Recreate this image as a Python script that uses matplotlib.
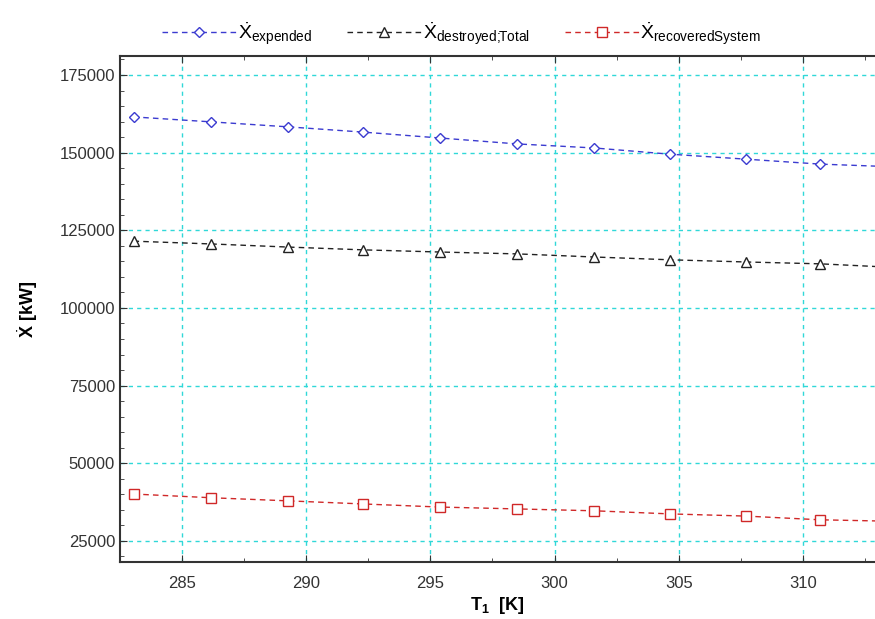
import matplotlib.pyplot as plt
from matplotlib.ticker import MultipleLocator

plt.rcParams['font.family'] = ['Liberation Sans', 'DejaVu Sans']
plt.rcParams['mathtext.fontset'] = 'custom'
plt.rcParams['mathtext.rm'] = 'Liberation Sans'
plt.rcParams['mathtext.it'] = 'Liberation Sans'
plt.rcParams['mathtext.bf'] = 'Liberation Sans:bold'

# Temperature T1 [K] (last point lies just past the right edge)
t1 = [283.05, 286.18, 289.27, 292.3, 295.4, 298.5, 301.6, 304.65, 307.7, 310.7, 313.8]

# Exergy rates [kW]
x_expended = [161500, 159900, 158300, 156600, 154700, 152800, 151500, 149500, 147900, 146300, 145400]
x_destroyed = [121500, 120600, 119600, 118700, 118000, 117400, 116400, 115500, 114800, 114200, 113000]
x_recovered = [40100, 38900, 37900, 36900, 35900, 35300, 34700, 33700, 33000, 31800, 31300]

fig = plt.figure(figsize=(8.75, 6.19), dpi=100)
ax = fig.add_axes([0.137, 0.092, 0.863, 0.8175])

ax.plot(t1, x_expended, '--', color='#3b3bd0', lw=1.0, dashes=(4, 3),
        marker='D', ms=5, mfc='white', mec='#3b3bd0', mew=1.0,
        label=r'$\dot{\mathrm{X}}_{\mathrm{expended}}$')
ax.plot(t1, x_destroyed, '--', color='#222222', lw=1.0, dashes=(4, 3),
        marker='^', ms=7, mfc='white', mec='#222222', mew=1.0,
        label=r'$\dot{\mathrm{X}}_{\mathrm{destroyed;\!\!Total}}$')
ax.plot(t1, x_recovered, '--', color='#d02828', lw=1.0, dashes=(4, 3),
        marker='s', ms=6.5, mfc='white', mec='#d02828', mew=1.0,
        label=r'$\dot{\mathrm{X}}_{\mathrm{recoveredSystem}}$')

ax.set_xlim(282.5, 312.9)
ax.set_ylim(18200, 181100)
ax.xaxis.set_major_locator(MultipleLocator(5))
ax.xaxis.set_minor_locator(MultipleLocator(2.5))
ax.yaxis.set_major_locator(MultipleLocator(25000))
ax.yaxis.set_minor_locator(MultipleLocator(5000))
ax.tick_params(which='both', direction='in', top=True, right=False, labelsize=12, colors='#333333')
ax.tick_params(which='major', length=5)
ax.tick_params(which='minor', length=3)
ax.tick_params(axis='x', pad=10)

ax.grid(True, which='major', color='#30d8d8', linestyle=(0, (3, 3)), lw=1.0)
ax.spines['right'].set_visible(False)
for s in ['left', 'bottom', 'top']:
    ax.spines[s].set_linewidth(1.5)
    ax.spines[s].set_color('#333333')

ax.set_xlabel(r'T$_\mathbf{1}$  [K]', fontsize=13, fontweight='bold', labelpad=3)
ax.set_ylabel(r'$\dot{\mathbf{X}}$ [kW]', fontsize=13, fontweight='bold', labelpad=14)

ax.legend(loc='lower left', bbox_to_anchor=(0.04, 0.995), ncol=3, frameon=False,
          fontsize=14, handlelength=3.8, handletextpad=0.1, columnspacing=1.8,
          borderaxespad=0.2)

fig.savefig('out.png', dpi=100)
